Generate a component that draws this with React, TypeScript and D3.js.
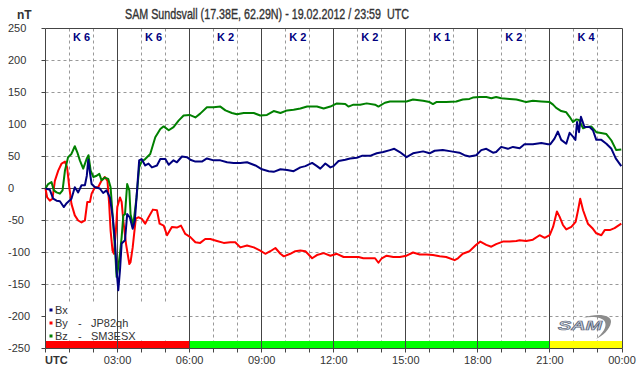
import React from 'react';
import * as d3 from 'd3';

const titleText = 'SAM Sundsvall (17.38E, 62.29N) - 19.02.2012 / 23:59  UTC';
const unitLabel = 'nT';
const yTickValues = [250, 200, 150, 100, 50, 0, -50, -100, -150, -200, -250];
const hourTicks = d3.range(0, 25);
const timeLabels = ['UTC', '03:00', '06:00', '09:00', '12:00', '15:00', '18:00', '21:00', '00:00'];
const kLabels = ['K 6', 'K 6', 'K 2', 'K 2', 'K 2', 'K 1', 'K 2', 'K 4'];
const bandStarts = [0, 6, 21];
const bandEnds = [6, 21, 24];
const bandLevels = ['storm', 'quiet', 'unsettled'];
const legendNames = ['Bx', 'By', 'Bz'];
const legendStations = ['', 'JP82qh', 'SM3ESX'];

const bxData: [number, number][] = [
  [0, 0], [0.18, -2], [0.32, -16], [0.46, -19], [0.6, -20], [0.76, -29], [0.88, -23], [1.08, -16], [1.22, 2], [1.36, -6],
  [1.5, 5], [1.64, 5], [1.72, 20], [1.78, 45], [1.85, 25], [1.92, 7], [2.06, 2], [2.26, 0], [2.4, -7], [2.54, -3],
  [2.68, -14], [2.8, -45], [2.89, -81], [2.96, -128], [3.03, -159], [3.1, -128], [3.17, -86], [3.31, -81], [3.4, -40],
  [3.51, -45], [3.63, -63], [3.72, -50], [3.79, -14], [3.9, 44], [4.0, 46], [4.15, 36], [4.29, 39], [4.43, 33], [4.64, 36],
  [4.78, 46], [4.99, 46], [5.13, 37], [5.33, 44], [5.47, 41], [5.68, 50], [5.89, 49], [6.03, 45], [6.24, 42], [6.51, 42],
  [6.72, 47], [7.0, 44], [7.28, 44], [7.56, 41], [7.83, 40], [8.11, 40], [8.39, 41], [8.74, 36], [9.01, 30], [9.29, 27],
  [9.5, 26], [9.78, 30], [10.06, 29], [10.33, 27], [10.61, 33], [10.82, 35], [11.1, 40], [11.3, 35], [11.44, 31],
  [11.65, 39], [11.86, 33], [11.99, 35], [12.2, 43], [12.48, 45], [12.68, 47], [12.96, 48], [13.17, 51], [13.51, 51],
  [13.79, 55], [14.06, 57], [14.34, 60], [14.52, 62], [14.75, 57], [15.03, 49], [15.3, 55], [15.72, 58], [15.99, 55],
  [16.2, 59], [16.54, 60], [16.89, 58], [17.23, 56], [17.44, 52], [17.65, 50], [17.93, 52], [18.14, 60], [18.35, 62],
  [18.63, 56], [18.76, 57], [18.97, 65], [19.25, 62], [19.46, 65], [19.74, 63], [19.94, 69], [20.29, 69], [20.64, 71],
  [20.92, 69], [21.01, 69], [21.19, 78], [21.33, 89], [21.47, 76], [21.68, 70], [21.82, 87], [21.96, 81], [22.06, 76],
  [22.13, 104], [22.21, 88], [22.29, 112], [22.44, 96], [22.65, 96], [22.79, 91], [22.93, 76], [23.14, 76], [23.35, 70],
  [23.56, 62], [23.74, 47], [23.97, 35],
];

const byData: [number, number][] = [
  [0, 0], [0.07, -14], [0.18, -19], [0.29, -16], [0.39, 12], [0.53, 28], [0.67, 39], [0.81, 42], [0.9, 33], [0.99, 2],
  [1.08, -24], [1.22, -42], [1.36, -50], [1.5, -53], [1.64, -50], [1.74, -21], [1.85, -21], [1.92, -8], [2.06, 2],
  [2.19, 2], [2.33, 12], [2.47, 18], [2.58, 12], [2.65, -24], [2.71, -66], [2.79, -97], [2.85, -102], [2.93, -66],
  [2.99, -29], [3.1, -14], [3.17, -21], [3.24, -50], [3.35, -86], [3.42, -102], [3.49, -118], [3.54, -115], [3.63, -92],
  [3.69, -71], [3.76, -47], [3.86, -45], [4.0, -47], [4.15, -55], [4.29, -45], [4.47, -33], [4.64, -34], [4.75, -55],
  [4.92, -58], [5.06, -73], [5.26, -60], [5.47, -61], [5.64, -58], [5.82, -71], [6.03, -76], [6.24, -84], [6.44, -85],
  [6.65, -79], [6.86, -79], [7.14, -82], [7.42, -85], [7.69, -84], [7.9, -84], [8.11, -92], [8.39, -89], [8.67, -92],
  [8.94, -97], [9.15, -102], [9.36, -98], [9.57, -93], [9.78, -102], [9.92, -106], [10.19, -102], [10.4, -98],
  [10.61, -97], [10.82, -98], [11.0, -105], [11.1, -109], [11.3, -104], [11.58, -101], [11.86, -105], [12.13, -102],
  [12.41, -107], [12.68, -107], [13.03, -107], [13.23, -109], [13.51, -109], [13.72, -109], [13.86, -116], [14.0, -109],
  [14.2, -105], [14.48, -107], [14.75, -107], [15.03, -105], [15.3, -100], [15.58, -103], [15.86, -103], [16.13, -104],
  [16.41, -106], [16.68, -107], [17.03, -112], [17.17, -109], [17.37, -102], [17.65, -98], [17.93, -88], [18.1, -83],
  [18.35, -88], [18.56, -91], [18.76, -87], [19.04, -83], [19.32, -83], [19.6, -82], [19.74, -81], [20.01, -82],
  [20.29, -80], [20.57, -73], [20.78, -77], [20.99, -73], [21.13, -60], [21.29, -36], [21.4, -44], [21.54, -57],
  [21.68, -64], [21.89, -60], [22.07, -52], [22.17, -34], [22.26, -16], [22.38, -34], [22.58, -55], [22.79, -63],
  [22.93, -70], [23.14, -73], [23.28, -65], [23.49, -65], [23.69, -62], [23.97, -55],
];

const bzData: [number, number][] = [
  [0, 0], [0.11, 7], [0.25, 10], [0.35, -3], [0.46, -6], [0.6, -8], [0.71, -3], [0.81, 28], [0.94, 49], [1.08, 54],
  [1.22, 66], [1.32, 57], [1.43, 44], [1.57, 31], [1.71, 46], [1.79, 52], [1.88, 28], [1.99, 18], [2.13, 20], [2.24, 23],
  [2.33, 13], [2.47, 17], [2.61, 15], [2.71, 2], [2.79, -40], [2.89, -92], [2.96, -138], [3.03, -123], [3.1, -102],
  [3.17, -76], [3.24, -42], [3.31, -40], [3.4, 7], [3.49, -3], [3.54, -40], [3.65, -58], [3.79, -14], [3.9, 33],
  [4.0, 42], [4.15, 46], [4.36, 54], [4.57, 80], [4.78, 93], [4.92, 97], [5.13, 91], [5.33, 96], [5.54, 106], [5.75, 114],
  [6.0, 115], [6.24, 111], [6.44, 117], [6.72, 127], [7.0, 127], [7.28, 128], [7.49, 122], [7.76, 118], [7.97, 116],
  [8.25, 118], [8.67, 118], [8.94, 114], [9.22, 115], [9.5, 121], [9.78, 118], [10.06, 122], [10.33, 123], [10.61, 125],
  [10.89, 128], [11.3, 128], [11.58, 125], [11.86, 128], [12.13, 133], [12.48, 132], [12.61, 128], [12.82, 131],
  [13.1, 131], [13.37, 133], [13.72, 131], [13.86, 128], [14.13, 134], [14.34, 136], [14.75, 136], [15.03, 136],
  [15.3, 139], [15.72, 137], [15.99, 135], [16.13, 132], [16.27, 135], [16.68, 135], [17.1, 136], [17.37, 139],
  [17.65, 140], [17.79, 142], [18.07, 143], [18.35, 143], [18.56, 141], [18.76, 143], [18.97, 141], [19.32, 140],
  [19.6, 139], [19.81, 137], [20.01, 135], [20.29, 137], [20.64, 136], [20.99, 135], [21.13, 131], [21.26, 126],
  [21.47, 121], [21.68, 119], [21.82, 112], [21.96, 104], [22.1, 108], [22.21, 107], [22.38, 94], [22.51, 96],
  [22.72, 97], [22.93, 88], [23.07, 87], [23.35, 85], [23.56, 75], [23.76, 60], [23.97, 61],
];

const W = 642;
const H = 376;
const FONT = '"Liberation Sans", Arial, sans-serif';

export default function App() {
  const x = d3.scaleLinear().domain([0, 24]).range([45.5, 622]);
  const y = d3.scaleLinear().domain([-250, 250]).range([348.5, 28.5]);
  const px = (h: number) => Math.floor(x(h)) + 0.5;
  const line = d3
    .line<[number, number]>()
    .x((d) => x(d[0]))
    .y((d) => y(d[1]))
    .curve(d3.curveLinear);

  const bandColor: Record<string, string> = { storm: '#ff0000', quiet: '#00ff00', unsettled: '#ffff00' };
  const seriesColors = ['#00007f', '#ff0000', '#008000'];
  const left = px(0);
  const right = px(24);
  const top = y(250);
  const bottom = y(-250);

  return (
    <svg
      width={W}
      height={H}
      viewBox={`0 0 ${W} ${H}`}
      style={{ position: 'absolute', left: 0, top: 0, background: '#fff' }}
      fontFamily={FONT}
    >
      <rect x={0} y={0} width={W} height={H} fill="#fff" />
      {/* title */}
      <text x={17} y={19} fontSize={12} fontWeight="bold" fill="#333">{unitLabel}</text>
      <text
        x={267}
        y={19}
        fontSize={14}
        fill="#333"
        stroke="#333"
        strokeWidth={0.35}
        textAnchor="middle"
        textLength={284}
        lengthAdjust="spacingAndGlyphs"
        style={{ whiteSpace: 'pre' }}
      >
        {titleText}
      </text>

      {/* hourly dashed grid */}
      {hourTicks
        .filter((h) => h % 3 !== 0)
        .map((h) => (
          <line key={'vg' + h} x1={px(h)} x2={px(h)} y1={top} y2={bottom} stroke="#999" strokeDasharray="3,3" />
        ))}
      {/* horizontal dashed grid */}
      {yTickValues
        .filter((v) => v !== 250 && v !== -250 && v !== 0)
        .map((v) => (
          <line key={'hg' + v} x1={left} x2={right} y1={y(v)} y2={y(v)} stroke="#999" strokeDasharray="3,3" />
        ))}

      {/* activity band */}
      {bandStarts.map((s, i) => (
        <rect
          key={'band' + i}
          x={x(s)}
          y={341}
          width={x(bandEnds[i]) - x(s)}
          height={7}
          fill={bandColor[bandLevels[i]]}
        />
      ))}

      {/* legend background */}
      <rect x={46} y={303} width={126} height={37} fill="#fff" />

      {/* solid 3-hour lines */}
      {hourTicks
        .filter((h) => h % 3 === 0 && h > 0 && h < 24)
        .map((h) => (
          <line key={'sv' + h} x1={px(h)} x2={px(h)} y1={top} y2={bottom} stroke="#444" />
        ))}
      {/* zero line */}
      <line x1={left} x2={right} y1={y(0)} y2={y(0)} stroke="#444" />
      {/* frame */}
      <line x1={left} x2={right} y1={top} y2={top} stroke="#444" />
      <line x1={right} x2={right} y1={top} y2={bottom} stroke="#444" />
      <line x1={left} x2={left} y1={top} y2={bottom} stroke="#444" />
      <line x1={left} x2={right} y1={bottom} y2={bottom} stroke="#444" />

      {/* bottom ticks */}
      {hourTicks.map((h) => (
        <line key={'bt' + h} x1={px(h)} x2={px(h)} y1={bottom} y2={bottom + 4} stroke="#444" />
      ))}
      {/* left ticks and labels */}
      {yTickValues.map((v) => (
        <g key={'yt' + v}>
          <line x1={left - 4} x2={left} y1={y(v)} y2={y(v)} stroke="#444" />
          <text x={8} y={y(v)} dy="0.35em" fontSize={11} fill="#333">
            {v}
          </text>
        </g>
      ))}
      {/* time labels */}
      {timeLabels.map((t, i) =>
        i === 0 ? (
          <text key={t} x={45} y={364} fontSize={11} fontWeight="bold" fill="#333">
            {t}
          </text>
        ) : (
          <text key={t} x={x(i * 3)} y={364} fontSize={11} fill="#333" textAnchor="middle">
            {t}
          </text>
        )
      )}

      {/* K labels */}
      {kLabels.map((k, i) => (
        <text
          key={'k' + i}
          x={x(i * 3 + 1.5)}
          y={41}
          fontSize={11}
          fontWeight="bold"
          fill="#00007f"
          textAnchor="middle"
        >
          {k}
        </text>
      ))}

      {/* series */}
      <path d={line(byData) || ''} fill="none" stroke={seriesColors[1]} strokeWidth={2} strokeLinejoin="round" />
      <path d={line(bzData) || ''} fill="none" stroke={seriesColors[2]} strokeWidth={2} strokeLinejoin="round" />
      <path d={line(bxData) || ''} fill="none" stroke={seriesColors[0]} strokeWidth={2} strokeLinejoin="round" />

      {/* legend */}
      {legendNames.map((n, i) => (
        <g key={'lg' + i}>
          <rect x={49.5} y={308.5 + i * 13} width={3} height={3} fill={seriesColors[i]} />
          <text x={55} y={310 + i * 13} dy="0.35em" fontSize={11} fill="#333">
            {n}
          </text>
          {legendStations[i] ? (
            <>
              <text x={78} y={310 + i * 13} dy="0.35em" fontSize={11} fill="#333">-</text>
              <text x={91} y={310 + i * 13} dy="0.35em" fontSize={11} fill="#333">
                {legendStations[i]}
              </text>
            </>
          ) : null}
        </g>
      ))}

      {/* logo */}
      <g>
        <path
          d="M583,318 C595,313 612,314 611,322 C610,330 602,336 596,339 C603,333 607,327 605,322 C603,317 592,316 583,318 Z"
          fill="#8c8c8c"
        />
        <text
          x={558}
          y={330}
          fontSize={12}
          fontStyle="italic"
          fontWeight="bold"
          fill="#c8d0dc"
          stroke="#5a6478"
          strokeWidth={0.6}
          textLength={44}
          lengthAdjust="spacingAndGlyphs"
        >
          SAM
        </text>
      </g>
    </svg>
  );
}
